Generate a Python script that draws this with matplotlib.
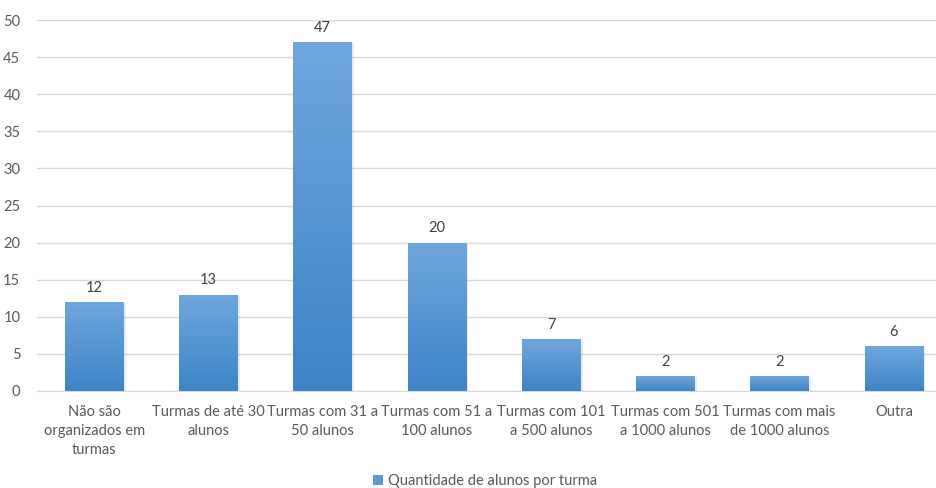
import matplotlib
matplotlib.use("Agg")
import matplotlib.pyplot as plt
import numpy as np
from matplotlib.colors import LinearSegmentedColormap
from matplotlib.patches import Patch

categorias = [
    "Não são\norganizados em\nturmas",
    "Turmas de até 30\nalunos",
    "Turmas com 31 a\n50 alunos",
    "Turmas com 51 a\n100 alunos",
    "Turmas com 101\na 500 alunos",
    "Turmas com 501\na 1000 alunos",
    "Turmas com mais\nde 1000 alunos",
    "Outra",
]
quantidade = [12, 13, 47, 20, 7, 2, 2, 6]
serie = "Quantidade de alunos por turma"

plt.rcParams['font.family'] = ['Lato', 'DejaVu Sans']
cinza = "#595959"

fig = plt.figure(figsize=(9.37, 4.88), dpi=100)
ax = fig.add_axes([37 / 937, 97 / 488, 914 / 937, 371 / 488])

# degradê vertical: claro em cima, mais escuro embaixo
grad = LinearSegmentedColormap.from_list("azul", ["#3d84c8", "#6fa7dd"])
largura = 0.51
x = np.arange(len(categorias))
barras = ax.bar(x, quantidade, width=largura, color="none", zorder=3)
for b, v in zip(barras, quantidade):
    x0 = b.get_x()
    # sombra leve
    ax.bar(b.get_x() + largura / 2 + 0.02, v, width=largura, bottom=-0.15,
           color="#000000", alpha=0.08, zorder=2)
    img = ax.imshow(np.linspace(0, 1, 256).reshape(-1, 1), cmap=grad,
                    origin="lower", aspect="auto",
                    extent=[x0, x0 + largura, 0, v], zorder=3)
    img.set_clip_path(b)
    ax.text(b.get_x() + largura / 2, v + 1.0, str(v), ha="center", va="bottom",
            fontsize=10.5, color="#404040")

ax.set_xlim(-0.5, len(categorias) - 0.5)
ax.set_ylim(0, 50)
ax.set_yticks(range(0, 51, 5))
ax.set_xticks(x)
ax.set_xticklabels(categorias, fontsize=10.5, color=cinza, linespacing=1.45)
ax.tick_params(axis="y", labelsize=10.5, labelcolor=cinza, length=0, pad=12)
ax.tick_params(axis="x", length=0, pad=10)
ax.grid(axis="y", color="#d9d9d9", linewidth=1, zorder=0)
for s in ["top", "right", "left"]:
    ax.spines[s].set_visible(False)
ax.spines["bottom"].set_color("#d9d9d9")

fig.legend(handles=[Patch(facecolor="#5b9bd5", label=serie)],
           loc="center", bbox_to_anchor=(485 / 937, 1 - 481 / 488),
           frameon=False, fontsize=10.5, labelcolor=cinza,
           handlelength=0.7, handleheight=0.7, handletextpad=0.3)

fig.savefig("out.png", dpi=100)
